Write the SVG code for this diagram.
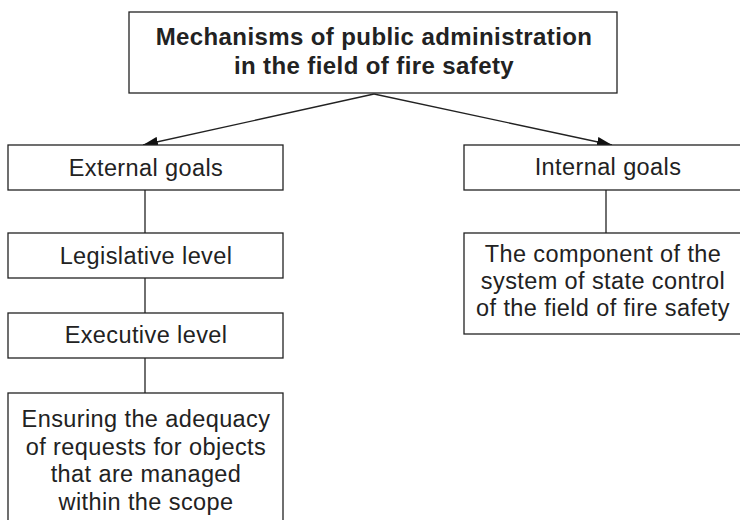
<svg xmlns="http://www.w3.org/2000/svg" width="740" height="520" viewBox="0 0 740 520">
<style>
rect{fill:#fff;stroke:#222;stroke-width:1.3}
line{stroke:#222;stroke-width:1.3}
.t{font-family:"Liberation Sans",Arial,sans-serif;font-size:23.5px;letter-spacing:0.4px;fill:#222;text-anchor:middle}
.b{font-weight:bold;font-size:24px;letter-spacing:0.4px}
</style>
<defs>
<marker id="ah" viewBox="0 0 15 10" refX="15" refY="5" markerWidth="15" markerHeight="10" markerUnits="userSpaceOnUse" orient="auto">
<path d="M0,0 L15,5 L0,10 Z" fill="#111"/>
</marker>
</defs>
<rect width="740" height="520" style="fill:#fff;stroke:none"/>
<g id="connectors">
<line x1="374" y1="94" x2="143" y2="145" marker-end="url(#ah)"/>
<line x1="374" y1="94" x2="612" y2="145" marker-end="url(#ah)"/>
<line x1="145" y1="190" x2="145" y2="233"/>
<line x1="145" y1="278" x2="145" y2="313"/>
<line x1="145" y1="358" x2="145" y2="393"/>
<line x1="606" y1="190" x2="606" y2="233"/>
</g>
<g id="root">
<rect x="129" y="12" width="488" height="81"/>
<text class="t b" x="374" y="45">Mechanisms of public administration</text>
<text class="t b" x="374" y="74">in the field of fire safety</text>
</g>
<g id="external">
<rect x="8" y="145" width="275" height="45"/>
<text class="t" x="146" y="176">External goals</text>
</g>
<g id="legislative">
<rect x="8" y="233" width="275" height="45"/>
<text class="t" x="146" y="264">Legislative level</text>
</g>
<g id="executive">
<rect x="8" y="313" width="275" height="45"/>
<text class="t" x="146" y="343">Executive level</text>
</g>
<g id="ensuring">
<rect x="8" y="393" width="275" height="135"/>
<text class="t" x="146" y="427">Ensuring the adequacy</text>
<text class="t" x="146" y="454.5">of requests for objects</text>
<text class="t" x="146" y="482">that are managed</text>
<text class="t" x="146" y="509.5">within the scope</text>
</g>
<g id="internal">
<rect x="464" y="145" width="285" height="45"/>
<text class="t" x="608" y="175">Internal goals</text>
</g>
<g id="component">
<rect x="464" y="233" width="285" height="101"/>
<text class="t" x="603" y="262">The component of the</text>
<text class="t" x="603" y="289">system of state control</text>
<text class="t" x="603" y="316">of the field of fire safety</text>
</g>
</svg>
